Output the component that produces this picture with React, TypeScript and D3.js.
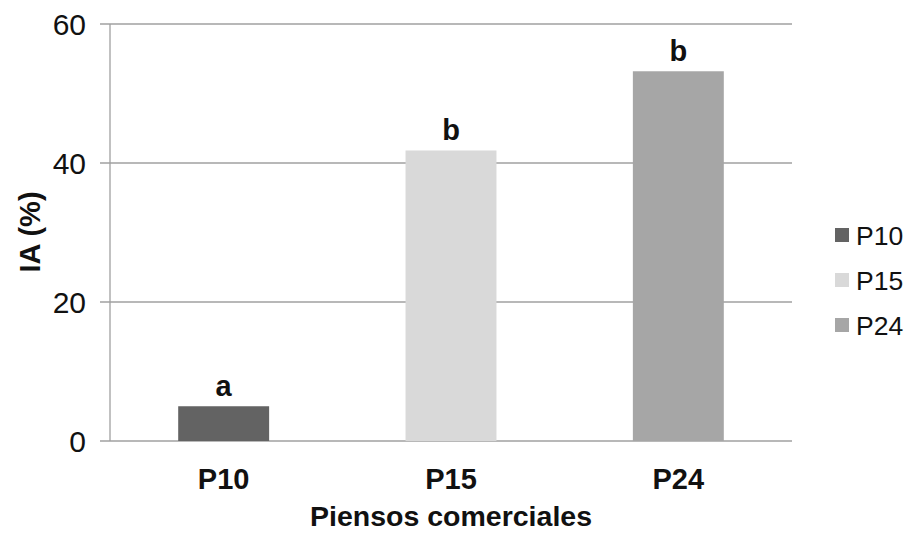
import * as d3 from 'd3';
import React from 'react';

const categories = ['P10', 'P15', 'P24'];
const values = [5.0, 41.8, 53.2];
const letters = ['a', 'b', 'b'];
const colors = ['#636363', '#d9d9d9', '#a6a6a6'];
const yTicks = [0, 20, 40, 60];

const W = 909;
const H = 538;
const margin = { top: 24, right: 117, bottom: 97, left: 110 };
const FONT = '"Liberation Sans", Arial, sans-serif';

export default function App() {
  const x = d3.scaleBand()
    .domain(categories)
    .range([margin.left, W - margin.right])
    .padding(0);

  const y = d3.scaleLinear()
    .domain([0, 60])
    .range([H - margin.bottom, margin.top]);

  const barW = x.bandwidth() * 0.4;
  const gridColor = '#a0a0a0';

  return (
    <svg width={W} height={H} style={{ position: 'absolute', left: 0, top: 0, background: '#fff' }}
      fontFamily={FONT}>
      {/* gridlines + y ticks */}
      {yTicks.map(t => (
        <g key={t}>
          <line x1={margin.left - 10} x2={W - margin.right} y1={y(t)} y2={y(t)}
            stroke={gridColor} strokeWidth={1.3} />
          <text x={86} y={y(t)} dy="0.36em" textAnchor="end" fontSize={30} fill="#111">{t}</text>
        </g>
      ))}
      <line x1={margin.left} x2={margin.left} y1={y(60)} y2={y(0)} stroke={gridColor} strokeWidth={1.3} />

      {/* bars */}
      {categories.map((c, i) => {
        const cx = x(c)! + x.bandwidth() / 2;
        return (
          <g key={c}>
            <rect x={cx - barW / 2} y={y(values[i])} width={barW} height={y(0) - y(values[i])}
              fill={colors[i]} />
            <text x={cx} y={y(values[i]) - 10} textAnchor="middle" fontSize={29}
              fontWeight="bold" fill="#111">{letters[i]}</text>
            <text x={cx} y={489} textAnchor="middle" fontSize={29} fontWeight="bold" fill="#111">{c}</text>
          </g>
        );
      })}

      {/* axis titles */}
      <text x={451} y={526} textAnchor="middle" fontSize={28.5} fontWeight="bold" fill="#111">
        Piensos comerciales
      </text>
      <text transform="translate(40,232) rotate(-90)" textAnchor="middle" fontSize={29}
        fontWeight="bold" fill="#111">IA (%)</text>

      {/* legend */}
      {categories.map((c, i) => (
        <g key={c} transform={`translate(835,${235 + i * 45})`}>
          <rect x={0} y={-7} width={14} height={14} fill={colors[i]} />
          <text x={21} y={0} dy="0.36em" fontSize={26.5} fill="#111">{c}</text>
        </g>
      ))}
    </svg>
  );
}
